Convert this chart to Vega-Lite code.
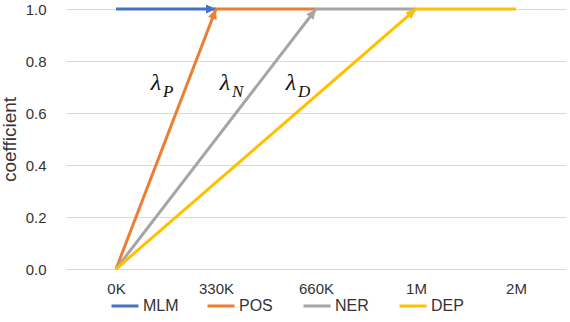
{
  "$schema": "https://vega.github.io/schema/vega-lite/v6.json",
  "width": 500,
  "height": 260,
  "autosize": {"type": "none"},
  "padding": {"left": 66, "top": 9, "right": 4, "bottom": 53},
  "background": "white",
  "config": {
    "view": {"stroke": null},
    "font": "Liberation Sans",
    "axis": {"labelFont": "Liberation Sans", "labelFontSize": 15, "labelColor": "#333333", "titleFont": "Liberation Sans", "titleColor": "#333333"},
    "legend": {"labelFont": "Liberation Sans", "labelFontSize": 16, "labelColor": "#333333"}
  },
  "datasets": {
    "lines": [
      {"series": "MLM", "step": 0, "coef": 1.0},
      {"series": "MLM", "step": 1, "coef": 1.0},
      {"series": "POS", "step": 0, "coef": 0.0},
      {"series": "POS", "step": 1, "coef": 1.0},
      {"series": "POS", "step": 2, "coef": 1.0},
      {"series": "NER", "step": 0, "coef": 0.0},
      {"series": "NER", "step": 2, "coef": 1.0},
      {"series": "NER", "step": 3, "coef": 1.0},
      {"series": "DEP", "step": 0, "coef": 0.0},
      {"series": "DEP", "step": 3, "coef": 1.0},
      {"series": "DEP", "step": 4, "coef": 1.0}
    ],
    "labels": [
      {"step": 0.40, "coef": 0.715, "sub": "P"},
      {"step": 1.09, "coef": 0.715, "sub": "N"},
      {"step": 1.75, "coef": 0.715, "sub": "D"}
    ]
  },
  "encoding": {
    "x": {"field": "step", "type": "quantitative",
      "scale": {"domain": [-0.5, 4.5], "nice": false, "zero": false},
      "axis": {"values": [0, 1, 2, 3, 4], "title": null, "grid": false, "domain": false, "ticks": false, "labelPadding": 12,
        "labelExpr": "['0K','330K','660K','1M','2M'][datum.value]"}},
    "y": {"field": "coef", "type": "quantitative",
      "scale": {"domain": [0, 1], "nice": false},
      "axis": {"values": [0, 0.2, 0.4, 0.6, 0.8, 1.0], "format": ".1f", "title": "coefficient", "titleFontSize": 19, "titleFont": "Liberation Sans", "titleFontWeight": 400, "titlePadding": 6,
        "grid": true, "gridColor": "#d9d9d9", "gridWidth": 1.2, "domain": false, "ticks": false, "labelPadding": 20}}
  },
  "layer": [
    {
      "data": {"name": "lines"},
      "mark": {"type": "line", "strokeWidth": 3},
      "encoding": {
        "color": {"field": "series", "type": "nominal",
          "scale": {"domain": ["MLM", "POS", "NER", "DEP"], "range": ["#4472C4", "#ED7D31", "#A5A5A5", "#FFC000"]},
          "legend": {"title": null, "orient": "none", "legendX": 44, "legendY": 282, "direction": "horizontal", "columns": 4,
            "gridAlign": "all", "columnPadding": 22, "symbolType": "stroke", "symbolSize": 729, "symbolStrokeWidth": 3,
            "labelOffset": 3}},
        "order": {"field": "step", "type": "quantitative"},
        "detail": {"field": "series"}
      }
    },
    {
      "data": {"name": "lines"},
      "transform": [{"filter": "datum.series == 'MLM' && datum.step == 1"}],
      "mark": {"type": "point", "shape": "M0,0L-0.9,2L0.9,2Z", "filled": true, "size": 100, "angle": 90, "color": "#4472C4", "opacity": 1}
    },
    {
      "data": {"name": "lines"},
      "transform": [{"filter": "datum.series == 'POS' && datum.step == 1"}],
      "mark": {"type": "point", "shape": "M0,0L-0.9,2L0.9,2Z", "filled": true, "size": 100, "angle": 21, "color": "#ED7D31", "opacity": 1}
    },
    {
      "data": {"name": "lines"},
      "transform": [{"filter": "datum.series == 'NER' && datum.step == 2"}],
      "mark": {"type": "point", "shape": "M0,0L-0.9,2L0.9,2Z", "filled": true, "size": 100, "angle": 37.6, "color": "#A5A5A5", "opacity": 1}
    },
    {
      "data": {"name": "lines"},
      "transform": [{"filter": "datum.series == 'DEP' && datum.step == 3"}],
      "mark": {"type": "point", "shape": "M0,0L-0.9,2L0.9,2Z", "filled": true, "size": 100, "angle": 49.1, "color": "#FFC000", "opacity": 1}
    },
    {
      "data": {"name": "labels"},
      "mark": {"type": "text", "text": "λ", "font": "Liberation Serif", "fontStyle": "italic", "fontSize": 24, "align": "center", "baseline": "middle", "color": "#111111"}
    },
    {
      "data": {"name": "labels"},
      "mark": {"type": "text", "font": "Liberation Serif", "fontStyle": "italic", "fontSize": 17, "align": "left", "baseline": "middle", "dx": 7, "dy": 9, "color": "#111111"},
      "encoding": {"text": {"field": "sub"}}
    }
  ]
}
